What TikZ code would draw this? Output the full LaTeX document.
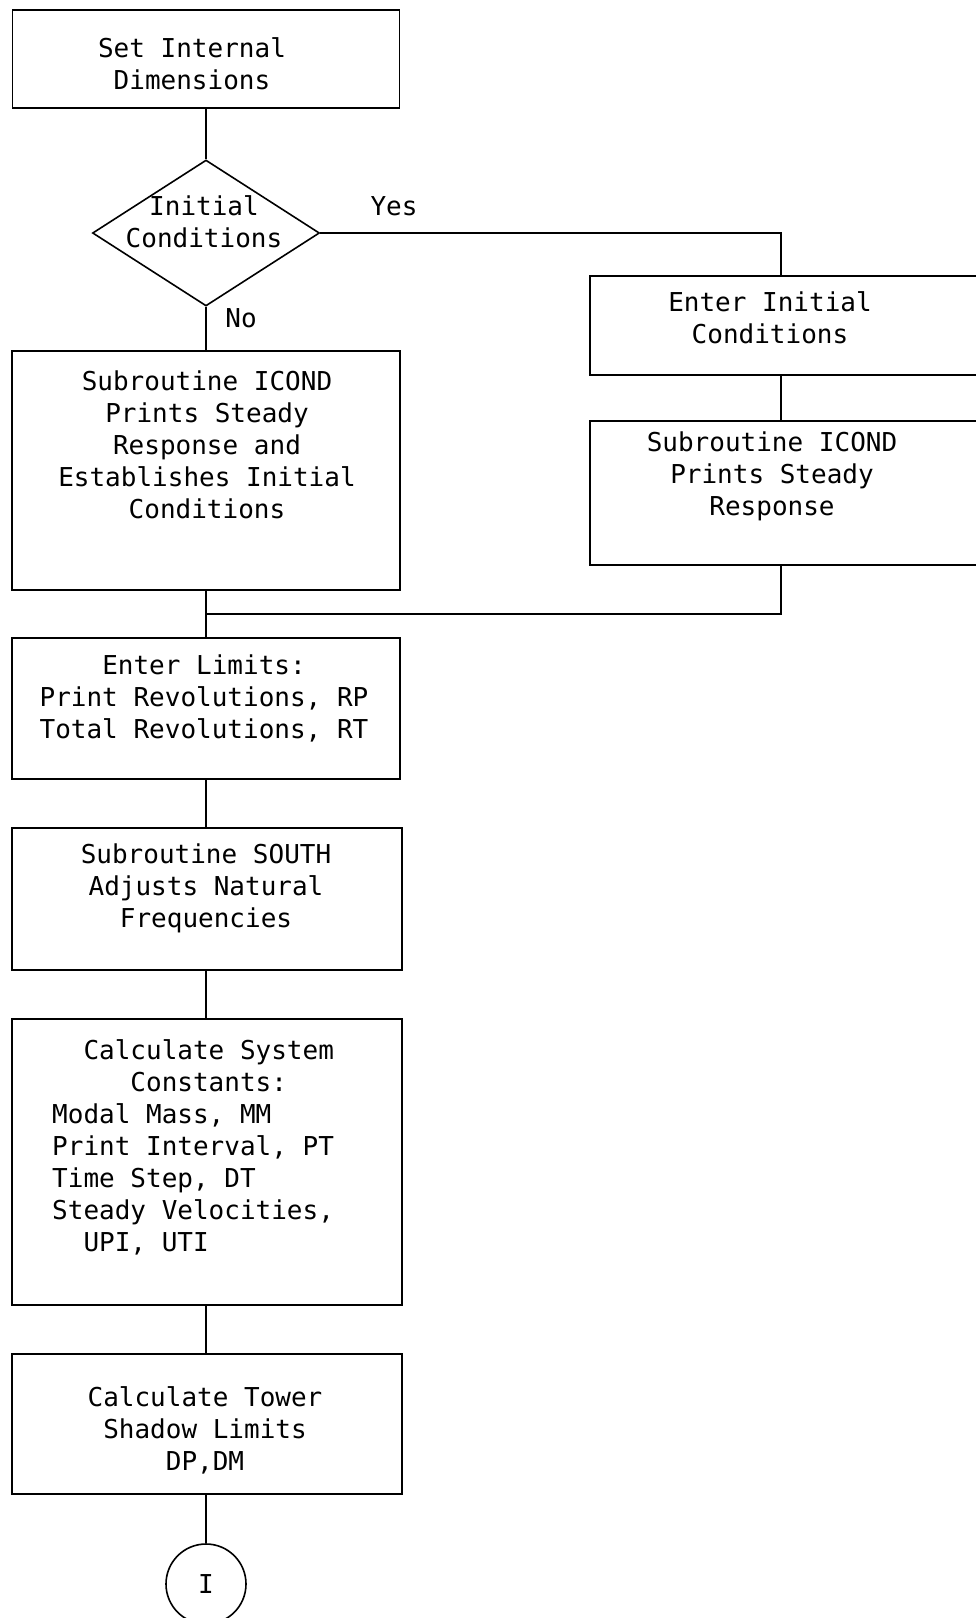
\documentclass[tikz,border=0pt]{standalone}
\usepackage{fontspec}
\setmonofont{DejaVu Sans Mono}
\usetikzlibrary{shapes.geometric}
\begin{document}
\begin{tikzpicture}[x=1pt,y=-1pt,
  box/.style={draw, line width=1.6pt, rectangle, inner sep=0},
  txt/.style={font=\ttfamily\fontsize{26}{32}\selectfont, align=center, inner sep=0},
  conn/.style={line width=1.6pt}]
\clip (0,0) rectangle (976,1618);
\fill[white] (0,0) rectangle (976,1618);
% boxes
\node[box, minimum width=387pt, minimum height=98pt] (b1) at (206,59) {};
\node[draw, line width=1.6pt, diamond, inner sep=0, minimum width=227pt, minimum height=146pt] (d) at (206,233) {};
\node[box, minimum width=400pt, minimum height=99pt] (r1) at (790,325.5) {};
\node[box, minimum width=400pt, minimum height=144pt] (r2) at (790,493) {};
\node[box, minimum width=388pt, minimum height=239pt] (b3) at (206,470.5) {};
\node[box, minimum width=388pt, minimum height=141pt] (b4) at (206,708.5) {};
\node[box, minimum width=390pt, minimum height=142pt] (b5) at (207,899) {};
\node[box, minimum width=390pt, minimum height=286pt] (b6) at (207,1162) {};
\node[box, minimum width=390pt, minimum height=140pt] (b7) at (207,1424) {};
\node[draw, line width=1.6pt, circle, inner sep=0, minimum size=80pt] (c) at (206,1584) {};
% texts
\node[txt] (t1) at (192,63.5) {Set Internal\\Dimensions};
\node[txt] (td) at (204,222) {Initial\\Conditions};
\node[txt] (tr1) at (770,318) {Enter Initial\\Conditions};
\node[txt] (tr2) at (772,476) {Subroutine ICOND\\Prints Steady\\Response};
\node[txt] (t3) at (207,445) {Subroutine ICOND\\Prints Steady\\Response and\\Establishes Initial\\Conditions};
\node[txt] (t4) at (204,698) {Enter Limits:\\Print Revolutions, RP\\Total Revolutions, RT};
\node[txt] (t5) at (206,888) {Subroutine SOUTH\\Adjusts Natural\\Frequencies};
\node[txt, align=left, anchor=north west] (t6) at (52,1039) {~~Calculate System\\~~~~~Constants:\\Modal Mass, MM\\Print Interval, PT\\Time Step, DT\\Steady Velocities,\\~~UPI, UTI};
\node[txt] (t7) at (205,1430) {Calculate Tower\\Shadow Limits\\DP,DM};
\node[txt] (ti) at (c) {I};
\node[txt] (yes) at (394,206) {Yes};
\node[txt] (no) at (241,318) {No};
% connectors
\coordinate (mx) at (206,0);
\coordinate (yc) at (781,233);
\coordinate (ym) at (781,614);
\coordinate (m) at (206,614);
\draw[conn] (b1.south) -- (d.north);
\draw[conn] (d.east) -- (yc) -- (yc |- r1.north);
\draw[conn] (yc |- r1.south) -- (yc |- r2.north);
\draw[conn] (yc |- r2.south) -- (ym) -- (m);
\draw[conn] (d.south) -- (b3.north);
\draw[conn] (mx |- b3.south) -- (mx |- b4.north);
\draw[conn] (mx |- b4.south) -- (mx |- b5.north);
\draw[conn] (mx |- b5.south) -- (mx |- b6.north);
\draw[conn] (mx |- b6.south) -- (mx |- b7.north);
\draw[conn] (mx |- b7.south) -- (c.north);
\end{tikzpicture}
\end{document}
